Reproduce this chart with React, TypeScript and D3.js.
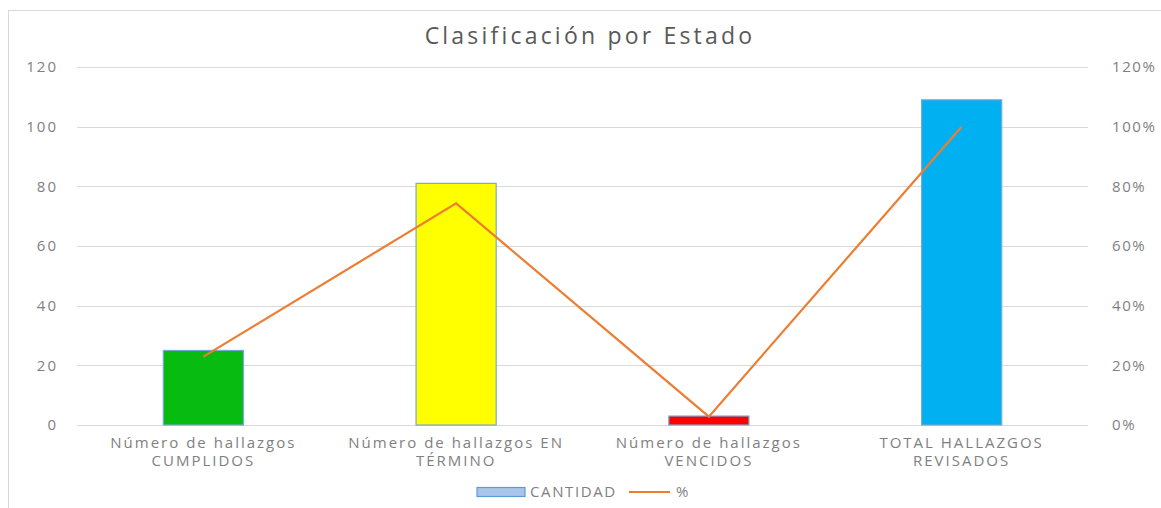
import React, { useEffect, useRef } from 'react'
import * as d3 from 'd3'

const categories = [
  ['Número de hallazgos', 'CUMPLIDOS'],
  ['Número de hallazgos EN', 'TÉRMINO'],
  ['Número de hallazgos', 'VENCIDOS'],
  ['TOTAL HALLAZGOS', 'REVISADOS'],
]
const cantidad = [25, 81, 3, 109]
const porcentaje = [0.229, 0.743, 0.028, 1.0]
const barColors = ['#07bb10', '#ffff00', '#ff0000', '#00b0f0']
const leftTicks = [0, 20, 40, 60, 80, 100, 120]
const rightTicks = [0, 0.2, 0.4, 0.6, 0.8, 1.0, 1.2]

export default function App(): React.ReactElement {
  const ref = useRef<HTMLDivElement>(null)

  useEffect(() => {
    const width = 1161
    const height = 508
    const left = 77
    const right = 1088
    const top = 67
    const bottom = 425
    const font = '"Open Sans", sans-serif'
    const grey = '#7f7f7f'

    d3.select(ref.current).select('svg').remove()

    const svg = d3
      .select(ref.current)
      .append('svg')
      .attr('width', width)
      .attr('height', height)
      .attr('style', 'position:absolute;left:0;top:0;background:#fff')
      .style('font-family', font)

    // chart frame
    svg
      .append('rect')
      .attr('x', 8.5)
      .attr('y', 10.5)
      .attr('width', 1160)
      .attr('height', 600)
      .attr('fill', 'none')
      .attr('stroke', '#d9d9d9')

    const x = d3
      .scaleBand<number>()
      .domain(d3.range(cantidad.length))
      .range([left, right])
      .padding(0)
    const y = d3.scaleLinear().domain([0, 120]).range([bottom, top])
    const y2 = d3.scaleLinear().domain([0, 1.2]).range([bottom, top])

    // gridlines
    svg
      .append('g')
      .selectAll('line')
      .data(leftTicks)
      .join('line')
      .attr('x1', left)
      .attr('x2', right)
      .attr('y1', (d) => Math.round(y(d)) + 0.5)
      .attr('y2', (d) => Math.round(y(d)) + 0.5)
      .attr('stroke', '#d9d9d9')
      .attr('stroke-width', 1.2)

    // left axis labels
    svg
      .append('g')
      .attr('fill', grey)
      .attr('font-size', 15)
      .attr('text-anchor', 'end')
      .selectAll('text')
      .data(leftTicks)
      .join('text')
      .attr('x', 58)
      .attr('y', (d) => y(d))
      .attr('dy', '0.35em')
      .attr('letter-spacing', 2)
      .text((d) => d)

    // right axis labels
    svg
      .append('g')
      .attr('fill', grey)
      .attr('font-size', 15)
      .attr('text-anchor', 'start')
      .selectAll('text')
      .data(rightTicks)
      .join('text')
      .attr('x', 1112)
      .attr('y', (d) => y2(d))
      .attr('dy', '0.35em')
      .attr('letter-spacing', 1.6)
      .text((d) => d3.format('.0%')(d))

    // bars
    const barW = x.bandwidth() * 0.317
    svg
      .append('g')
      .selectAll('rect')
      .data(cantidad)
      .join('rect')
      .attr('x', (_, i) => x(i)! + x.bandwidth() / 2 - barW / 2)
      .attr('y', (d) => y(d))
      .attr('width', barW)
      .attr('height', (d) => y(0) - y(d))
      .attr('fill', (_, i) => barColors[i])
      .attr('stroke', '#7aa7d6')
      .attr('stroke-width', 1.2)

    // percentage line
    const line = d3
      .line<number>()
      .x((_, i) => x(i)! + x.bandwidth() / 2)
      .y((d) => y2(d))
    svg
      .append('path')
      .datum(porcentaje)
      .attr('d', line)
      .attr('fill', 'none')
      .attr('stroke', '#ed7d31')
      .attr('stroke-width', 2.2)

    // category labels
    const cat = svg
      .append('g')
      .attr('fill', grey)
      .attr('font-size', 15)
      .attr('text-anchor', 'middle')
      .selectAll('text')
      .data(categories)
      .join('text')
      .attr('letter-spacing', 2)
    cat
      .selectAll('tspan')
      .data((d) => d)
      .join('tspan')
      .attr('x', function () {
        const i = categories.indexOf(d3.select(this.parentNode as Element).datum() as string[])
        return x(i)! + x.bandwidth() / 2
      })
      .attr('y', (_, j) => 448 + j * 18)
      .text((d) => d)

    // title
    svg
      .append('text')
      .attr('x', 590)
      .attr('y', 44)
      .attr('text-anchor', 'middle')
      .attr('fill', '#595959')
      .attr('font-size', 23)
      .attr('letter-spacing', 3.2)
      .text('Clasificación por Estado')

    // legend
    const legend = svg.append('g').attr('font-size', 15).attr('fill', grey)
    legend
      .append('rect')
      .attr('x', 477)
      .attr('y', 487.5)
      .attr('width', 48)
      .attr('height', 9)
      .attr('fill', '#a9c6ea')
      .attr('stroke', '#5b9bd5')
      .attr('stroke-width', 1.2)
    legend
      .append('text')
      .attr('x', 530)
      .attr('y', 492)
      .attr('dy', '0.35em')
      .attr('letter-spacing', 1.6)
      .text('CANTIDAD')
    legend
      .append('line')
      .attr('x1', 629)
      .attr('x2', 670)
      .attr('y1', 492)
      .attr('y2', 492)
      .attr('stroke', '#ed7d31')
      .attr('stroke-width', 2.2)
    legend
      .append('text')
      .attr('x', 676)
      .attr('y', 492)
      .attr('dy', '0.35em')
      .text('%')
  }, [])

  return <div ref={ref}></div>
}
